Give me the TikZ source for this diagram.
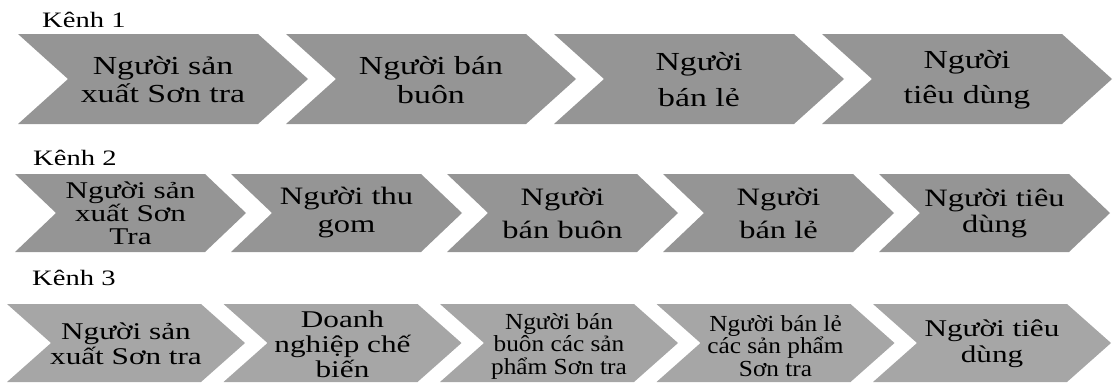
\documentclass[tikz,border=0pt]{standalone}
\usepackage{fontspec}
\setmainfont[FakeStretch=1.3]{Liberation Serif}
\newfontfamily\narrowfont[FakeStretch=1.1]{Liberation Serif}
\definecolor{chevdark}{HTML}{959595}
\definecolor{chevlight}{HTML}{A6A6A6}
\tikzset{
  kenh/.style={anchor=base west, inner sep=0pt, font=\fontsize{22}{22}\selectfont},
  lbl/.style={align=center, inner sep=0pt, text=black},
}

\begin{document}
\begin{tikzpicture}[x=1pt, y=-1pt]
\useasboundingbox (0,0) rectangle (1113,383);
\node[kenh] (k1) at (42,27) {Kênh 1};
\node[kenh] (k2) at (33,165) {Kênh 2};
\node[kenh] (k3) at (32,285) {Kênh 3};
\foreach \i/\fs/\bs/\txt in {0/26/28/{Người sản\\xuất Sơn tra}, 1/26/29/{Người bán\\buôn},
    2/26/36/{Người\\bán lẻ}, 3/26/35/{Người\\tiêu dùng}} {
  \pgfmathsetmacro\L{18+\i*268}
  \fill[chevdark] (\L,34) -- ++(240,0) -- ++(50,45) -- ++(-50,45) -- ++(-240,0) -- ++(50,-45) -- cycle;
  \node[lbl, font=\fontsize{\fs}{\bs}\selectfont] (a\i) at (\L+145,80) {\txt};
}
\foreach \i/\fs/\bs/\txt in {0/24/23/{Người sản\\xuất Sơn\\Tra}, 1/25/28/{Người thu\\gom},
    2/25/33/{Người\\bán buôn}, 3/25/33/{Người\\bán lẻ}, 4/25/26/{Người tiêu\\dùng}} {
  \pgfmathsetmacro\L{15+\i*216}
  \fill[chevdark] (\L,174) -- ++(190,0) -- ++(41,39) -- ++(-41,39) -- ++(-190,0) -- ++(41,-39) -- cycle;
  \node[lbl, font=\fontsize{\fs}{\bs}\selectfont] (b\i) at (\L+115.5,213) {\txt};
}
\foreach \i/\fs/\bs/\txt in {0/24/25/{Người sản\\xuất Sơn tra}, 1/24/25/{Doanh\\nghiệp chế\\biến},
    4/24/26/{Người tiêu\\dùng}} {
  \pgfmathsetmacro\L{7+\i*216.5}
  \fill[chevlight] (\L,304) -- ++(194,0) -- ++(44,39) -- ++(-44,39) -- ++(-194,0) -- ++(44,-39) -- cycle;
  \node[lbl, font=\fontsize{\fs}{\bs}\selectfont] (c\i) at (\L+119,344) {\txt};
}
\foreach \i/\txt in {2/{Người bán\\buôn các sản\\phẩm Sơn tra}, 3/{Người bán lẻ\\các sản phẩm\\Sơn tra}} {
  \pgfmathsetmacro\L{7+\i*216.5}
  \fill[chevlight] (\L,304) -- ++(194,0) -- ++(44,39) -- ++(-44,39) -- ++(-194,0) -- ++(44,-39) -- cycle;
  \node[lbl, font=\narrowfont\fontsize{23}{22.5}\selectfont] (c\i) at (\L+119,346) {\txt};
}
\end{tikzpicture}
\end{document}
